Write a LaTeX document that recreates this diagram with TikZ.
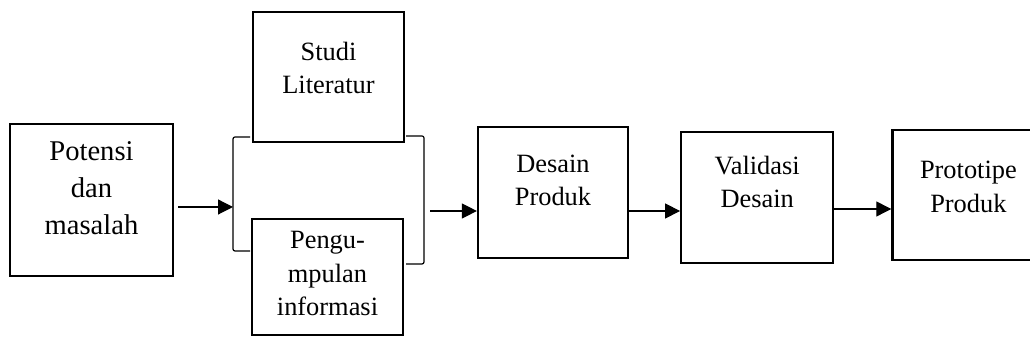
\documentclass[tikz,border=0pt]{standalone}
\usepackage{fontspec}
\setmainfont{Liberation Serif}
\usetikzlibrary{arrows.meta, positioning}
\tikzset{
  >={Triangle[length=7.5pt, width=7.5pt]},
  box/.style={rectangle, draw=black, line width=1.1pt, inner sep=0pt},
  txt/.style={anchor=north, align=center, inner sep=0pt, font=\fontsize{13.2}{16.75}\selectfont},
  txtb/.style={txt, font=\fontsize{14.3}{18.5}\selectfont},
  flow/.style={->, line width=0.6pt, draw=black},
  brace/.style={line width=0.6pt, draw=black, rounded corners=1pt},
}
\begin{document}
\begin{tikzpicture}[x=0.5pt, y=-0.5pt]
  \useasboundingbox (0,0) rectangle (1030,346);
  % boxes
  \node[box, minimum width=81.5pt, minimum height=76pt,
        label={[txtb, yshift=-9.25pt]north:Potensi\\dan\\masalah}] (pot) at (91.5,200) {};
  \node[box, minimum width=75.5pt, minimum height=65pt,
        label={[txt, yshift=-15.25pt]north:Studi\\Literatur}] (studi) at (328.5,77) {};
  \node[box, minimum width=75.5pt, minimum height=58pt, below=37.5pt of studi, xshift=-0.5pt,
        label={[txt, yshift=-6.5pt]north:Pengu-\\mpulan\\informasi}] (pengu) {};
  \node[box, minimum width=75pt, minimum height=65.5pt,
        label={[txt, yshift=-14.25pt]north:Desain\\Produk}] (desain) at (553,192.5) {};
  \node[box, minimum width=76pt, minimum height=65.5pt, right=25.5pt of desain, yshift=-2.5pt,
        label={[txt, yshift=-12.25pt]north:Validasi\\Desain}] (valid) {};
  \node[box, minimum width=76pt, minimum height=65pt, right=28.5pt of valid, yshift=1.25pt,
        label={[txt, yshift=-16pt]north:Prototipe\\Produk}] (proto) {};
  % brackets round the two sources
  \draw[brace] (250,137) -- (233,137) -- (233,251) -- (250,251);
  \draw[brace] (406,136) -- (424,136) -- (424,264) -- (406,264);
  \coordinate (brl) at (233,207);
  \coordinate (brr) at (424,211);
  % arrows
  \draw[flow, shorten <=2pt] (pot.east |- brl) -- (brl);
  \draw[flow, shorten <=3pt] (brr) -- (brr -| desain.west);
  \draw[flow] (desain.east |- brr) -- (valid.west |- brr);
  \draw[flow] ([yshift=1pt]valid.east |- brr) -- ([yshift=1pt]proto.west |- brr);
\end{tikzpicture}
\end{document}
